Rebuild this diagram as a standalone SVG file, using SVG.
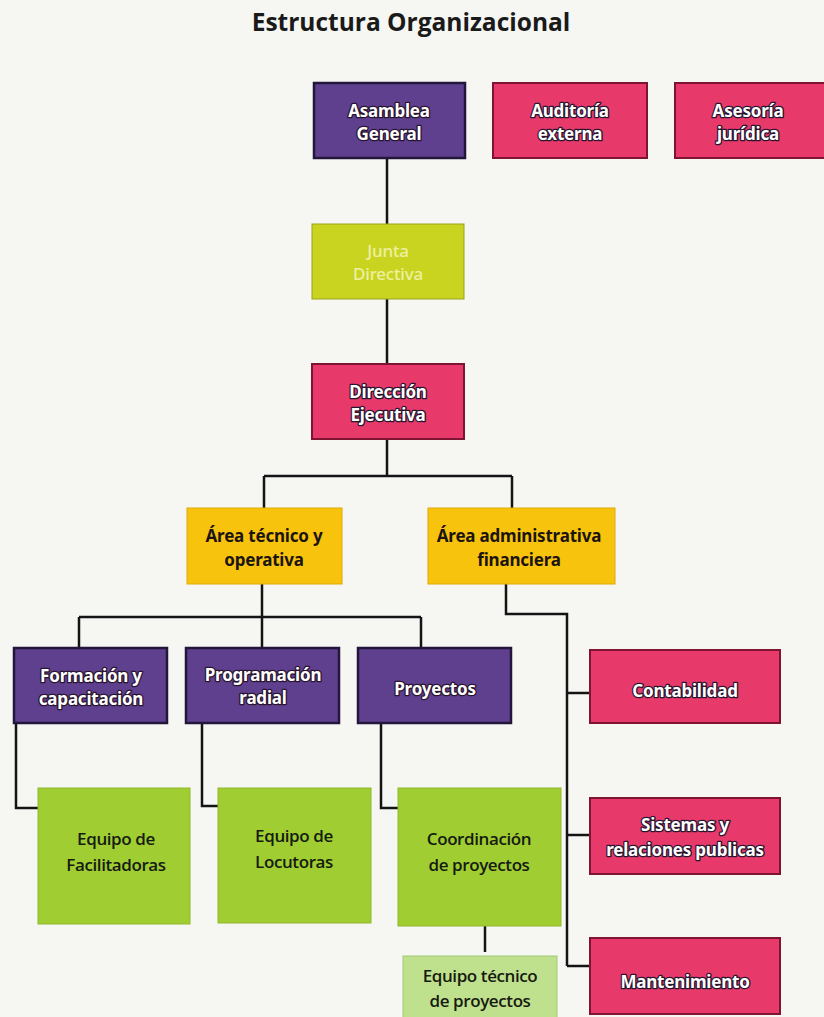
<svg xmlns="http://www.w3.org/2000/svg" width="824" height="1017" viewBox="0 0 824 1017">
<style>
.bg{fill:#f6f6f3}
.t{font-family:"Noto Sans","Open Sans",sans-serif;font-size:17px;font-weight:700;text-anchor:middle;letter-spacing:-0.2px}
.w{fill:#ffffff;stroke:#2a1530;stroke-width:2.6;paint-order:stroke;stroke-linejoin:round}
.d{fill:#1c1410}
.jt{fill:#eef0a0;font-weight:500}
.g{font-family:"Open Sans","Noto Sans",sans-serif;font-size:17px;font-weight:600;fill:#161a10;text-anchor:middle;letter-spacing:-0.4px}
.purple{fill:#5e408f;stroke:#24163a;stroke-width:2.5}
.pink{fill:#e8396b;stroke:#7e1432;stroke-width:2}
.junta{fill:#c8d420;stroke:#9ca218;stroke-width:1}
.yellow{fill:#f8c30c;stroke:#e0a808;stroke-width:1}
.green{fill:#9fcd32;stroke:#8fb82c;stroke-width:1}
.lgreen{fill:#bfe08c;stroke:#a4c878;stroke-width:1}
.c{fill:none;stroke:#141414;stroke-width:2.5}
</style>
<rect class="bg" x="0" y="0" width="824" height="1017"/>
<text x="411" y="31" style="font-family:'Open Sans','Noto Sans',sans-serif;font-size:24.5px;font-weight:700;fill:#1a1a1a;text-anchor:middle">Estructura Organizacional</text>

<g id="connectors">
<path class="c" d="M387 158V224M387 299V364M387 440V476M264 476H512M264 476V508M512 476V508"/>
<path class="c" d="M262 584V617M79 617H421M79 617V648M262 617V648M421 617V648"/>
<path class="c" d="M506 584V614H567V966M567 693H590M567 835H590M567 966H590"/>
<path class="c" d="M16 723V808H38M202 723V806H218M381 723V808H398"/>
<path class="c" d="M485 926V952"/>
</g>

<g id="asamblea"><rect class="purple" x="314" y="83" width="151" height="75"/>
<text class="t w" x="389" y="117">Asamblea</text><text class="t w" x="389" y="140">General</text></g>
<g id="auditoria"><rect class="pink" x="493" y="83" width="154" height="75"/>
<text class="t w" x="570" y="117">Auditoría</text><text class="t w" x="570" y="140">externa</text></g>
<g id="asesoria"><rect class="pink" x="675" y="83" width="152" height="75"/>
<text class="t w" x="748" y="117">Asesoría</text><text class="t w" x="748" y="140">jurídica</text></g>
<g id="junta"><rect class="junta" x="312" y="224" width="152" height="75"/>
<text class="t jt" x="388" y="257">Junta</text><text class="t jt" x="388" y="280">Directiva</text></g>
<g id="direccion"><rect class="pink" x="312" y="364" width="152" height="75"/>
<text class="t w" x="388" y="398">Dirección</text><text class="t w" x="388" y="421">Ejecutiva</text></g>
<g id="area-tecnica"><rect class="yellow" x="187" y="508" width="155" height="76"/>
<text class="t d" x="264" y="542">Área técnico y</text><text class="t d" x="264" y="566">operativa</text></g>
<g id="area-admin"><rect class="yellow" x="428" y="508" width="187" height="76"/>
<text class="t d" x="519" y="542">Área administrativa</text><text class="t d" x="519" y="566">financiera</text></g>
<g id="formacion"><rect class="purple" x="14" y="648" width="153" height="75"/>
<text class="t w" x="91" y="682">Formación y</text><text class="t w" x="91" y="705">capacitación</text></g>
<g id="programacion"><rect class="purple" x="186" y="648" width="153" height="75"/>
<text class="t w" x="263" y="681">Programación</text><text class="t w" x="263" y="704">radial</text></g>
<g id="proyectos"><rect class="purple" x="358" y="648" width="153" height="75"/>
<text class="t w" x="435" y="695">Proyectos</text></g>
<g id="facilitadoras"><rect class="green" x="38" y="788" width="152" height="136"/>
<text class="g" x="116" y="845">Equipo de</text><text class="g" x="116" y="871">Facilitadoras</text></g>
<g id="locutoras"><rect class="green" x="218" y="788" width="153" height="135"/>
<text class="g" x="294" y="842">Equipo de</text><text class="g" x="294" y="868">Locutoras</text></g>
<g id="coordinacion"><rect class="green" x="398" y="788" width="163" height="138"/>
<text class="g" x="479" y="845">Coordinación</text><text class="g" x="479" y="871">de proyectos</text></g>
<g id="equipo-tecnico"><rect class="lgreen" x="403" y="956" width="154" height="64"/>
<text class="g" x="480" y="982">Equipo técnico</text><text class="g" x="480" y="1007">de proyectos</text></g>
<g id="contabilidad"><rect class="pink" x="590" y="650" width="190" height="73"/>
<text class="t w" x="685" y="697">Contabilidad</text></g>
<g id="sistemas"><rect class="pink" x="590" y="798" width="190" height="76"/>
<text class="t w" x="685" y="831">Sistemas y</text><text class="t w" x="685" y="856">relaciones publicas</text></g>
<g id="mantenimiento"><rect class="pink" x="590" y="938" width="190" height="76"/>
<text class="t w" x="685" y="988">Mantenimiento</text></g>
</svg>
